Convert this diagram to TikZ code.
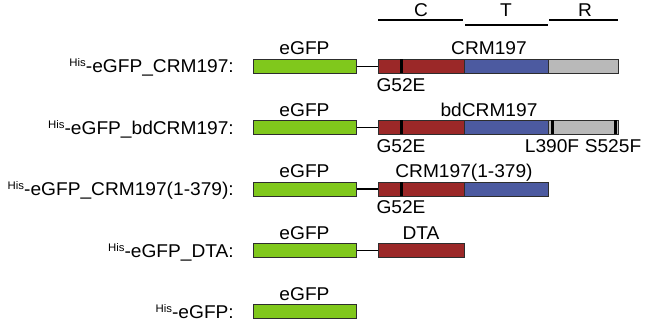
\documentclass[tikz,border=0pt]{standalone}
\usepackage{fontspec}
\setmainfont{Liberation Sans}[FakeStretch=1.035]
\definecolor{gfpgreen}{RGB}{128,200,28}
\definecolor{cred}{RGB}{155,40,40}
\definecolor{tblue}{RGB}{76,90,160}
\definecolor{rgray}{RGB}{185,185,185}
\definecolor{edge}{RGB}{45,45,45}
\newcommand\fs{\fontsize{18.5}{22}\selectfont}
\newcommand\hisp{\raisebox{6pt}{\fontsize{11}{11}\selectfont His}-}
\tikzset{
  seg/.style={rectangle, draw=edge, line width=0.9pt, inner sep=0pt, minimum height=14pt, anchor=north west},
  gfp/.style={seg, fill=gfpgreen, minimum width=103pt},
  cdom/.style={seg, fill=cred, minimum width=86pt},
  tdom/.style={seg, fill=tblue, minimum width=84pt},
  rdom/.style={seg, fill=rgray, minimum width=70pt},
  mut/.style={rectangle, fill=black, draw=none, inner sep=0pt, minimum width=3pt, minimum height=14pt, anchor=north west},
  lbl/.style={font=\fs, inner sep=0pt, anchor=base},
  rowlbl/.style={font=\fs, inner sep=0pt, anchor=base east},
  linker/.style={line width=1.5pt, draw=black},
  domline/.style={line width=1.6pt, draw=black}
}
\begin{document}
\begin{tikzpicture}[x=1pt,y=-1pt]
\useasboundingbox (0,0) rectangle (645,321);
% domain bars
\coordinate (cA) at (378,20); \coordinate (cB) at (463,20);
\coordinate (tA) at (465,25); \coordinate (tB) at (548,25);
\coordinate (rA) at (549,20); \coordinate (rB) at (618,20);
\draw[domline] (cA) -- (cB);
\draw[domline] (tA) -- (tB);
\draw[domline] (rA) -- (rB);
\node[lbl] (cL) at (421,16.5) {C};
\node[lbl] (tL) at (506,16.5) {T};
\node[lbl] (rL) at (585,16.5) {R};

% Row 1
\node[rowlbl] (r1) at (234,73) {\hisp eGFP\_CRM197:};
\node[gfp] (g1) at (253,59) {};
\node[cdom] (c1) at (378,59) {};
\node[tdom] (t1) at (464,59) {};
\node[rdom] (x1) at (548,59) {};
\node[mut] (m1) at (400,59) {};
\draw[linker] (g1.east) -- (c1.west);
\node[lbl] (e1) at (304.5,55) {eGFP};
\node[lbl] (n1) at (489,55) {CRM197};
\node[lbl] (p1) at (401,91) {G52E};

% Row 2
\node[rowlbl] (r2) at (234,134) {\hisp eGFP\_bdCRM197:};
\node[gfp] (g2) at (253,120) {};
\node[cdom] (c2) at (378,120) {};
\node[tdom] (t2) at (464,120) {};
\node[rdom] (x2) at (548,120) {};
\node[mut] (m2) at (400,120) {};
\node[mut] (m2b) at (550.5,120) {};
\node[mut] (m2c) at (614,120) {};
\draw[linker] (g2.east) -- (c2.west);
\node[lbl] (e2) at (304.5,116) {eGFP};
\node[lbl] (n2) at (489,116) {bdCRM197};
\node[lbl] (p2) at (401,152) {G52E};
\node[lbl] (q2) at (552,152) {L390F};
\node[lbl] (s2) at (613,152) {S525F};

% Row 3
\node[rowlbl] (r3) at (234,195.5) {\hisp eGFP\_CRM197(1-379):};
\node[gfp] (g3) at (253,181.5) {};
\node[cdom] (c3) at (378,181.5) {};
\node[tdom] (t3) at (464,181.5) {};
\node[mut] (m3) at (400,181.5) {};
\draw[linker] (g3.east) -- (c3.west);
\node[lbl] (e3) at (304.5,177.5) {eGFP};
\node[lbl] (n3) at (464,177.5) {CRM197(1-379)};
\node[lbl] (p3) at (401,213.5) {G52E};

% Row 4
\node[rowlbl] (r4) at (234,257) {\hisp eGFP\_DTA:};
\node[gfp] (g4) at (253,243) {};
\node[cdom] (c4) at (378,243) {};
\draw[linker] (g4.east) -- (c4.west);
\node[lbl] (e4) at (304.5,239) {eGFP};
\node[lbl] (n4) at (421,239) {DTA};

% Row 5
\node[rowlbl] (r5) at (234,318) {\hisp eGFP:};
\node[gfp] (g5) at (253,304) {};
\node[lbl] (e5) at (304.5,300) {eGFP};
\end{tikzpicture}
\end{document}
